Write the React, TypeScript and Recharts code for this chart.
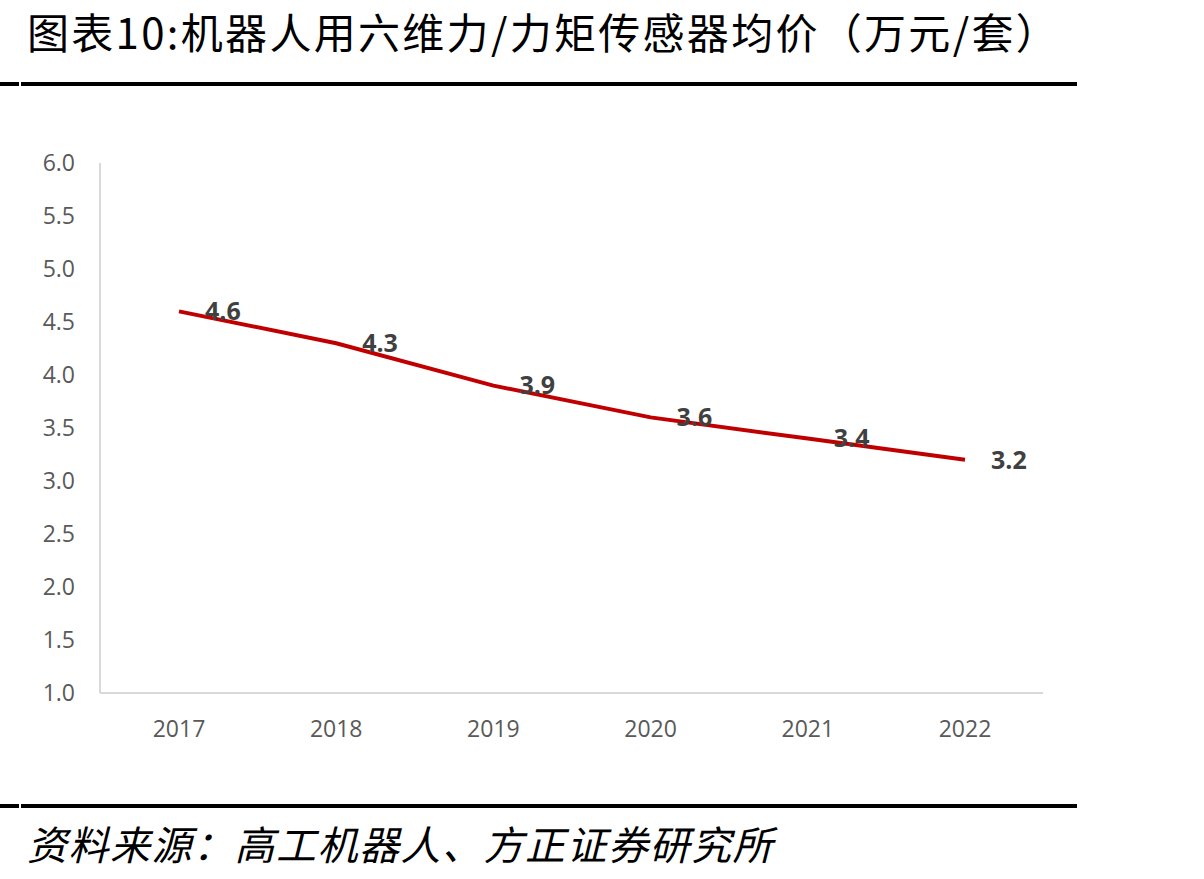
import React from 'react';
import { LineChart, Line, XAxis, YAxis, LabelList } from 'recharts';

const years = ['2017', '2018', '2019', '2020', '2021', '2022'];
const prices = [4.6, 4.3, 3.9, 3.6, 3.4, 3.2];
const yTicks = [1, 1.5, 2, 2.5, 3, 3.5, 4, 4.5, 5, 5.5, 6];

const title = '图表10:机器人用六维力/力矩传感器均价（万元/套）';
const source = '资料来源：高工机器人、方正证券研究所';

const data = years.map((year, i) => ({ year, price: prices[i] }));

const numFont = '"Open Sans", "DejaVu Sans", sans-serif';
const cjkFont = '"Noto Sans CJK SC", "Noto Sans", sans-serif';

const Rule = ({ top }: { top: number }) => (
  <>
    <div style={{ position: 'absolute', left: 0, top, width: 19, height: 4, background: '#000' }} />
    <div style={{ position: 'absolute', left: 21, top, width: 1056, height: 4, background: '#000' }} />
  </>
);

const App: React.FC = () => {
  return (
    <div style={{ position: 'absolute', left: 0, top: 0, width: 1204, height: 879, background: '#fff' }}>
      <div
        style={{
          position: 'absolute',
          left: 27,
          top: 0,
          fontFamily: cjkFont,
          fontSize: 42,
          lineHeight: 'normal',
          color: '#000',
          whiteSpace: 'nowrap',
          letterSpacing: 2.3,
        }}
      >
        {title}
      </div>
      <Rule top={82} />

      <div style={{ position: 'absolute', left: 0, top: 0 }}>
        <LineChart
          width={1204}
          height={879}
          data={data}
          margin={{ top: 163, right: 161, bottom: 126, left: 40 }}
        >
          <XAxis
            dataKey="year"
            height={60}
            padding={{ left: 79, right: 78 }}
            axisLine={{ stroke: '#D9D9D9', strokeWidth: 2 }}
            tickLine={false}
            tickSize={0}
            tickMargin={28}
            tick={{ fill: '#595959', fontSize: 23, fontFamily: numFont }}
          />
          <YAxis
            width={60}
            domain={[1, 6]}
            ticks={yTicks}
            interval={0}
            tickFormatter={(v: number) => v.toFixed(1)}
            axisLine={{ stroke: '#D9D9D9', strokeWidth: 2 }}
            tickLine={false}
            tickSize={0}
            tickMargin={25}
            tick={{ fill: '#595959', fontSize: 23, fontFamily: numFont }}
          />
          <Line
            type="linear"
            dataKey="price"
            stroke="#C00000"
            strokeWidth={4}
            dot={false}
            activeDot={false}
            isAnimationActive={false}
          >
            <LabelList
              dataKey="price"
              position="right"
              offset={26}
              formatter={(v: number) => v.toFixed(1)}
              fill="#404040"
              fontSize={25}
              fontWeight="bold"
              fontFamily={numFont}
            />
          </Line>
        </LineChart>
      </div>

      <Rule top={804} />
      <div
        style={{
          position: 'absolute',
          left: 27,
          top: 814,
          fontFamily: cjkFont,
          fontSize: 40,
          lineHeight: 'normal',
          fontStyle: 'italic',
          color: '#000',
          whiteSpace: 'nowrap',
          letterSpacing: 1.5,
        }}
      >
        {source}
      </div>
    </div>
  );
};

export default App;
